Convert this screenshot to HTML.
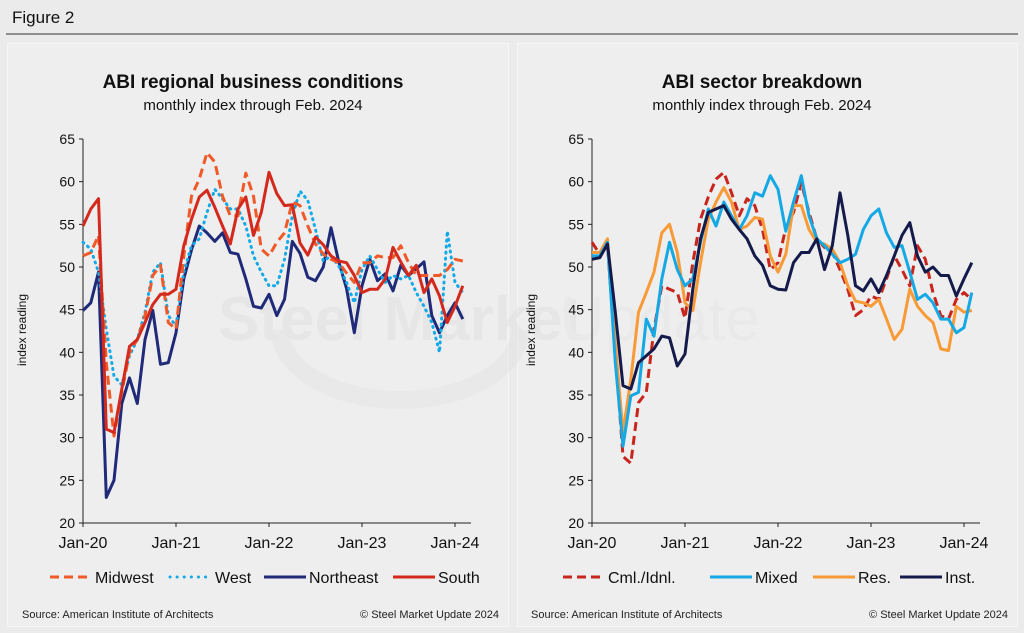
<!DOCTYPE html>
<html><head><meta charset="utf-8">
<style>
body{margin:0;background:#ebebeb;font-family:"Liberation Sans",Arial,sans-serif;}
#wrap{position:relative;width:1024px;height:633px;overflow:hidden;background:#ebebeb;}
</style></head>
<body>
<div id="wrap">
<svg id="svg" width="1024" height="633" xmlns="http://www.w3.org/2000/svg">
<text x="12" y="23" font-size="17" fill="#111">Figure 2</text>
<line x1="6" y1="34" x2="1018" y2="34" stroke="#333" stroke-width="1"/>
<rect x="7.5" y="43.5" width="501" height="583" fill="#eeeeee" stroke="#f6f6f6"/>
<rect x="517.5" y="43.5" width="500" height="583" fill="#eeeeee" stroke="#f6f6f6"/>
<g id="wm" opacity="0.45">
<path d="M280 330 A120 70 0 0 0 520 330" fill="none" stroke="#e2e2e2" stroke-width="18"/>
<text x="218" y="340" font-size="62" font-weight="bold" fill="#dedede">Steel Market</text>
<text x="560" y="340" font-size="62" fill="#e4e4e4">Update</text>
</g>
<g id="left"></g>
<g id="right"></g>
</svg>
</div>
<script>
const months = 50;
const yTicks = [20,25,30,35,40,45,50,55,60,65];
const xTickLabels = ["Jan-20","Jan-21","Jan-22","Jan-23","Jan-24"];
const midwest = [51.3,51.7,53.7,38.8,30.2,35.3,40,41.5,44.3,49,50.2,43.5,42.7,51.3,58.3,60.3,63.4,62.3,58.3,56,56,61,58.3,52.1,51.3,52.9,54,57.6,57.2,54.8,52.7,51.5,50.9,50.5,49.3,48.2,50.5,50.5,51.3,51.1,51.1,52.5,50.5,49,49,49,49,49.7,50.9,50.7];
const west = [52.9,52.1,49.4,42.7,37.2,36.2,39.6,41.5,44.7,49.4,50.5,44.3,43.1,49.4,52.5,53.3,56.4,59.1,58,56.8,56.8,54.8,51.3,49.4,47.8,47.8,50.9,56,58.9,57.8,54.4,50.7,51.3,50.1,48.2,45.8,49.7,51.3,49.7,48.2,49,48.6,49,47,45.4,43.5,40,54.2,48.2,47];
const northeast = [44.9,45.8,49.4,23,25,34,37,34,41.5,44.9,38.6,38.8,42.3,48.6,52,54.8,54,53,54,51.7,51.5,48.6,45.4,45.2,46.8,44.3,46.2,53,51.6,48.8,48.4,50,54.6,50.6,47.5,42.3,47.8,50.9,48.4,49.2,47.2,50.2,49,49.8,50.6,44.3,42.3,44.3,45.8,43.9];
const south = [54.8,56.8,58,31,30.6,35.7,40.7,41.5,43.5,45.6,46.8,46.8,47.4,52.5,55.6,58.2,59,57,54.8,52.7,56.8,58.2,53.7,56.4,61.1,58.6,57.2,57.3,52.8,51.4,53.5,52.6,51.3,50.7,50.5,49,47,47.4,47.4,48.6,52.3,50.6,49,50.2,47,48.6,46.6,43.5,45.4,47.8];
const cml = [52.9,51.5,52.5,40,27.8,27,34.1,35.3,42.7,47.8,47.4,47,44,50.5,55.6,58.2,60.3,61.1,58.7,56,58,57.2,54.4,49.7,50.5,54.6,56.4,59.9,56.4,53.3,52.3,51.7,49.7,47.4,44.3,45,46.6,46.2,48.6,51.3,49.7,47.8,52.5,50.9,47,44.3,43.9,46.2,47,46.2];
const mixed = [51.3,51.3,52.9,38.8,29,34.9,35.3,43.9,41.9,48.6,52.9,49.7,47.8,48.6,52.9,56.8,54.8,57.6,56,54.4,56,58.7,58.3,60.7,59.1,54.2,57.6,60.7,56,53.3,52.5,51.5,50.5,50.9,51.5,54.4,56,56.8,54,52.3,52.5,49.4,46.2,46.8,45.8,43.9,43.9,42.3,42.9,47];
const res = [51.7,51.7,53.3,41.1,30.6,36.8,44.7,47,49.4,54,55,51.7,45.8,44.9,50.5,55.6,57.6,59.3,57.6,54.4,54.8,55.8,55.6,51.3,49.4,51.5,57.2,57.2,54.4,52.9,52.7,52.1,50.5,47.8,46,45.8,45.4,46.2,43.9,41.5,42.7,47.4,45.4,44.3,43.5,40.4,40.2,45.4,44.7,44.9];
const inst = [50.9,51.1,52.7,44.7,36.1,35.7,38.8,39.6,40.4,41.9,41.7,38.4,39.8,47.4,53.3,56.4,56.8,57.2,55.6,54.4,53.3,51.3,50.2,47.8,47.4,47.3,50.5,51.7,51.7,53.3,49.7,52.5,58.7,53.7,47.8,47.2,48.6,47,49,51.3,53.7,55.2,51.3,49.4,50,49,49,46.6,48.6,50.5];

const NS="http://www.w3.org/2000/svg";
function mk(tag, attrs, parent, txt){const e=document.createElementNS(NS,tag);for(const k in attrs)e.setAttribute(k,attrs[k]);if(txt!==undefined)e.textContent=txt;parent.appendChild(e);return e;}

function drawChart(g, ox, title, series, legend){
  const x0=ox, x1=ox+388, yTop=139, yBot=523;
  const xS=m=>x0+m*(93/12);
  const yS=v=>yBot-(v-20)*(yBot-yTop)/45;
  const cx=ox+170;
  let t=mk('text',{x:cx,y:88,'text-anchor':'middle','font-size':19,'font-weight':'bold',fill:'#111'},g,title);
  
  t=mk('text',{x:cx,y:110,'text-anchor':'middle','font-size':15,fill:'#111'},g,'monthly index through Feb. 2024');
  
  t=mk('text',{x:0,y:0,'text-anchor':'middle','font-size':12,fill:'#111',transform:`translate(${ox-57},330) rotate(-90)`},g,'index reading');
  
  let a=mk('line',{x1:x0,y1:yTop,x2:x0,y2:yBot,stroke:'#222','stroke-width':1},g);
  
  a=mk('line',{x1:x0,y1:yBot,x2:x1,y2:yBot,stroke:'#222','stroke-width':1},g);
  
  yTicks.forEach(v=>{
    const y=yS(v);
    const l=mk('line',{x1:x0-4,y1:y,x2:x0,y2:y,stroke:'#222'},g);
    
    const tt=mk('text',{x:x0-8,y:y+5,'text-anchor':'end','font-size':14,fill:'#111'},g,String(v));
    
  });
  xTickLabels.forEach((lab,i)=>{
    const x=xS(i*12);
    const l=mk('line',{x1:x,y1:yBot,x2:x,y2:yBot+4,stroke:'#222'},g);
    
    const tt=mk('text',{x:x,y:548,'text-anchor':'middle','font-size':16,fill:'#111'},g,lab);
    
  });
  series.forEach(s=>{
    const pts=s.data.map((v,i)=>xS(i).toFixed(1)+','+yS(v).toFixed(1)).join(' ');
    const p=mk('polyline',{points:pts,fill:'none',stroke:s.color,'stroke-width':3,'stroke-linejoin':'round','stroke-linecap':s.dash==='1 5'?'round':'butt'},g);
    if(s.dash)p.setAttribute('stroke-dasharray',s.dash);
    
    
  });
  legend.forEach(s=>{
    const lx=s.lx;
    const l=mk('line',{x1:lx,y1:577,x2:lx+42,y2:577,stroke:s.color,'stroke-width':3,'stroke-linecap':s.dash==='1 5'?'round':'butt'},g);
    if(s.dash)l.setAttribute('stroke-dasharray',s.dash==='1 5'?'0.1 7':s.dash);
    
    
    const tt=mk('text',{x:lx+45,y:583,'font-size':16,fill:'#111'},g,s.label);
    
    
  });
  t=mk('text',{x:ox-61,y:618,'font-size':11,fill:'#222'},g,'Source: American Institute of Architects');
  
  t=mk('text',{x:ox+416,y:618,'text-anchor':'end','font-size':11,fill:'#222'},g,'© Steel Market Update 2024');
  
}

const leftSeries=[
 {name:'northeast',data:northeast,color:'#1f2a78'},
 {name:'west',data:west,color:'#12a9e8',dash:'1 5'},
 {name:'midwest',data:midwest,color:'#f05a28',dash:'9 5'},
 {name:'south',data:south,color:'#d42a1e'}
];
const leftLegend=[
 {name:'midwest',label:'Midwest',color:'#f05a28',dash:'9 5',lx:50},
 {name:'west',label:'West',color:'#12a9e8',dash:'1 5',lx:170},
 {name:'northeast',label:'Northeast',color:'#1f2a78',lx:264},
 {name:'south',label:'South',color:'#d42a1e',lx:393}
];
drawChart(document.getElementById('left'),83,'ABI regional business conditions',leftSeries,leftLegend);

const rightSeries=[
 {name:'cml-idnl',data:cml,color:'#c8251c',dash:'9 5'},
 {name:'res',data:res,color:'#f89a36'},
 {name:'mixed',data:mixed,color:'#14a8e5'},
 {name:'inst',data:inst,color:'#141a4a'}
];
const rightLegend=[
 {name:'cml-idnl',label:'Cml./Idnl.',color:'#c8251c',dash:'9 5',lx:563},
 {name:'mixed',label:'Mixed',color:'#14a8e5',lx:710},
 {name:'res',label:'Res.',color:'#f89a36',lx:813},
 {name:'inst',label:'Inst.',color:'#141a4a',lx:900}
];
drawChart(document.getElementById('right'),592,'ABI sector breakdown',rightSeries,rightLegend);
</script>
</body></html>
